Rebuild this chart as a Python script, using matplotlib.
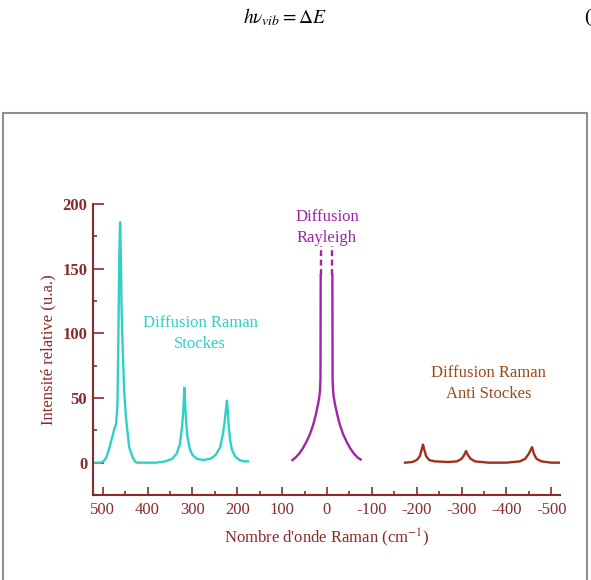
import matplotlib
matplotlib.use("Agg")
import matplotlib.pyplot as plt
from matplotlib.patches import Rectangle

plt.rcParams['font.family'] = ['Liberation Serif', 'DejaVu Serif']
plt.rcParams['mathtext.fontset'] = 'stix'

# Diffusion Raman Stockes
x_stokes = [518, 505, 498, 492, 486, 480, 474, 470, 467, 465, 463, 461, 459, 458,
            456, 452, 448, 445, 441, 437, 433, 428, 424, 415, 380, 360, 345, 335,
            328, 323, 320, 318, 316, 314, 311, 306, 300, 290, 275, 260, 248, 238,
            232, 228, 225, 223, 221, 219, 216, 212, 205, 195, 185, 176]
y_stokes = [0, 0, 1, 4, 10, 18, 26, 30, 45, 95, 160, 186, 150, 122,
            95, 55, 35, 25, 12, 8, 4, 1, 0, 0, 0, 1, 3, 7,
            14, 28, 42, 58, 45, 32, 20, 11, 6, 3, 2, 3, 6, 12,
            22, 32, 42, 48, 40, 28, 18, 10, 5, 2, 1, 1]

# Diffusion Rayleigh (deux branches, coupées)
x_ray_g = [77, 70, 62, 54, 46, 38, 31, 25, 20, 17, 15.5, 14.5, 14]
y_ray_g = [2, 4, 7, 11, 16, 22, 29, 37, 45, 51, 56, 65, 145]
x_ray_d = [-75, -68, -60, -52, -44, -36, -29, -23, -18, -15, -13.5, -12.5, -12]
y_ray_d = [2.5, 4, 7, 11, 16, 22, 29, 37, 45, 51, 56, 65, 145]
y_pointille = [145, 168]

# Diffusion Raman Anti Stockes
x_anti = [-174, -190, -200, -207, -211, -214, -217, -221, -228, -240, -270, -290,
          -300, -306, -310, -314, -320, -330, -360, -400, -430, -442, -450, -457,
          -461, -467, -478, -500, -520]
y_anti = [0, 0.5, 2, 5, 10, 14, 10, 5, 2, 1, 0.5, 1,
          3, 6, 9, 6, 3, 1, 0, 0, 1, 3, 7, 12,
          7, 3, 1, 0, 0]

xticks = [500, 400, 300, 200, 100, 0, -100, -200, -300, -400, -500]
yticks = [0, 50, 100, 150, 200]

c_axe = '#8a2a2a'
c_cyan = '#2fd0c6'
c_violet = '#a024a8'
c_brun = '#a0301c'

fig = plt.figure(figsize=(5.91, 5.8), dpi=100)
ax = fig.add_axes([0.157, 0.1466, 0.791, 0.5014])

ax.plot(x_stokes, y_stokes, color=c_cyan, lw=1.7)
ax.plot(x_ray_g, y_ray_g, color=c_violet, lw=1.7)
ax.plot(x_ray_d, y_ray_d, color=c_violet, lw=1.7)
ax.plot([x_ray_g[-1]] * 2, y_pointille, color=c_violet, lw=1.7, ls=(0, (2.5, 1.5)))
ax.plot([x_ray_d[-1]] * 2, y_pointille, color=c_violet, lw=1.7, ls=(0, (2.5, 1.5)))
ax.plot(x_anti, y_anti, color=c_brun, lw=1.7)

ax.set_xlim(522, -520)
ax.set_ylim(-25, 200)
ax.set_xticks(xticks)
ax.set_xticks([450, 350, 250, 150, 50, -50, -150, -250, -350, -450], minor=True)
ax.set_yticks(yticks)
ax.set_yticks([25, 75, 125, 175], minor=True)
ax.set_xticklabels([str(v) for v in xticks], fontsize=12, color=c_axe)
ax.set_yticklabels([str(v) for v in yticks], fontsize=12, color=c_axe, fontweight='bold')
ax.tick_params(axis='both', which='major', direction='in', color=c_axe, width=1.2)
ax.tick_params(axis='x', which='major', length=6, pad=5)
ax.tick_params(axis='y', which='major', length=8, pad=4)
ax.tick_params(axis='both', which='minor', direction='in', length=3, color=c_axe, width=1.2)

for s in ['top', 'right']:
    ax.spines[s].set_visible(False)
for s in ['left', 'bottom']:
    ax.spines[s].set_color(c_axe)
    ax.spines[s].set_linewidth(1.5)

ax.set_xlabel("Nombre d'onde Raman (cm$^{-1}$)", fontsize=12, color=c_axe, labelpad=6)
ax.set_ylabel("Intensité relative (u.a.)", fontsize=12, color=c_axe, labelpad=4)

ax.text(283, 100, "Diffusion Raman\nStockes", color=c_cyan, fontsize=12,
        ha='center', va='center', linespacing=1.4)
ax.text(0, 182, "Diffusion\nRayleigh", color=c_violet, fontsize=12,
        ha='center', va='center', linespacing=1.4)
ax.text(-360, 61, "Diffusion Raman\nAnti Stockes", color='#9a4a1e', fontsize=12,
        ha='center', va='center', linespacing=1.4)

fig.text(0.482, 0.970, r"$h\nu_{vib} = \mathit{\Delta} E$", fontsize=14,
         ha='center', va='center')
fig.text(0.988, 0.970, "(", fontsize=14, ha='left', va='center')

fig.patches.append(Rectangle((3 / 591, -0.05), 584 / 591, 0.05 + 467 / 580, fill=False,
                             edgecolor='#909090', lw=1.5, transform=fig.transFigure, figure=fig))

fig.savefig("out.png", dpi=100)
